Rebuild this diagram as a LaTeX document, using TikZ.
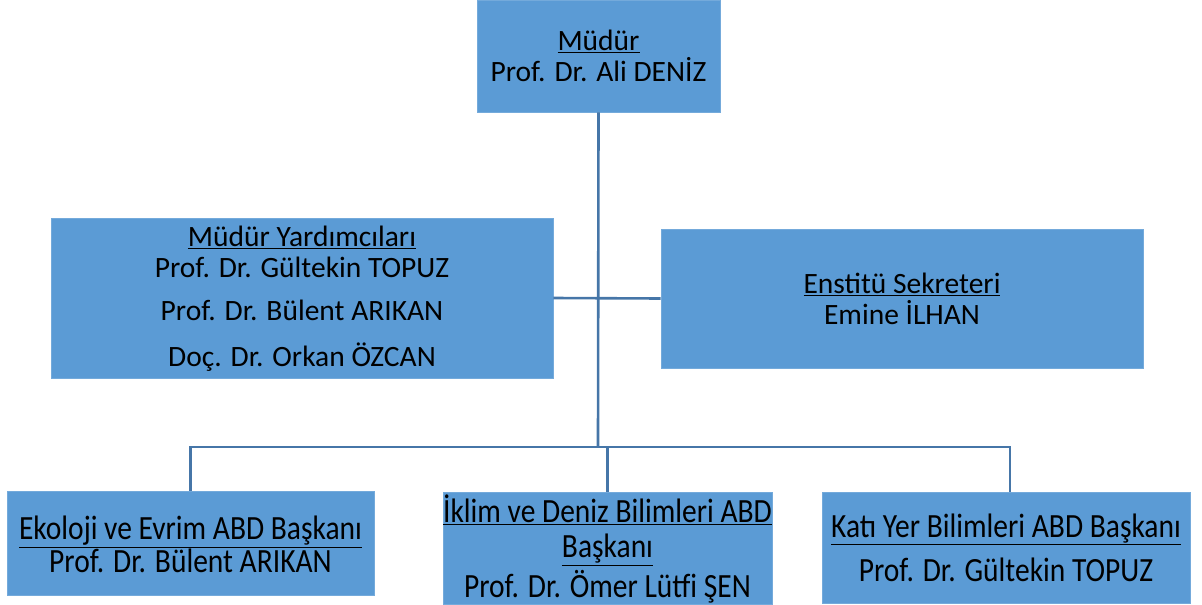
\documentclass[tikz,border=0pt]{standalone}
\usepackage{fontspec}
\setmainfont{Carlito}
\definecolor{boxfill}{RGB}{91,155,213}
\definecolor{linec}{RGB}{70,118,168}
\newcommand{\tallt}[2][-5pt]{\raisebox{#1}[\height][\depth]{\scalebox{1}[1.15]{\fontsize{29.5}{28}\selectfont\begin{tabular}{@{}c@{}}#2\end{tabular}}}}
\newcommand{\normt}[2][0pt]{\raisebox{#1}[\height][\depth]{\begin{tabular}{@{}c@{}}#2\end{tabular}}}
\begin{document}
\begin{tikzpicture}[x=1pt,y=-1pt,
  box/.style={rectangle, fill=boxfill, draw=boxfill!85!white, line width=0.6pt, align=center, inner sep=0pt, font=\fontsize{29.5}{31}\selectfont},
  conn/.style={draw=linec, line width=2.6pt}]
\useasboundingbox (0,0) rectangle (1202,605);
\node[box, minimum width=243pt, minimum height=112pt] (mudur) at (598.5,56)
  {\underline{Müdür}\\Prof. Dr. Ali DENİZ};
\node[box, minimum width=502pt, minimum height=160pt] (myard) at (302,298)
  {\normt[-2pt]{\underline{Müdür Yardımcıları}\\Prof. Dr. Gültekin TOPUZ\\[12pt]Prof. Dr. Bülent ARIKAN\\[13pt]Doç. Dr. Orkan ÖZCAN}};
\node[box, minimum width=482pt, minimum height=139pt] (ens) at (902,298.5)
  {\underline{Enstitü Sekreteri}\\Emine İLHAN};
\node[box, minimum width=367pt, minimum height=104pt] (eko) at (190.5,543)
  {\tallt[-6pt]{\underline{Ekoloji ve Evrim ABD Başkanı}\\Prof. Dr. Bülent ARIKAN}};
\node[box, minimum width=327pt, minimum height=108pt] (iklim) at (607.5,548)
  {\tallt[-3pt]{\underline{İklim ve Deniz Bilimleri ABD}\\[1.5pt]\underline{Başkanı}\\[2.5pt]Prof. Dr. Ömer Lütfi ŞEN}};
\node[box, minimum width=368pt, minimum height=111pt] (kati) at (1006,547.5)
  {\tallt[-5pt]{\underline{Katı Yer Bilimleri ABD Başkanı}\\[10pt]Prof. Dr. Gültekin TOPUZ}};
\coordinate (j) at (598,447);
\coordinate (jr) at (1010,447);
\draw[conn] (mudur.south) -- (j);
\draw[conn] (myard.east) -- (ens.west);
\draw[conn] (j) -| (eko.north);
\draw[conn] (j) -| (iklim.north);
\draw[conn] (j) -- (jr) -- (jr |- kati.north);
\end{tikzpicture}
\end{document}
